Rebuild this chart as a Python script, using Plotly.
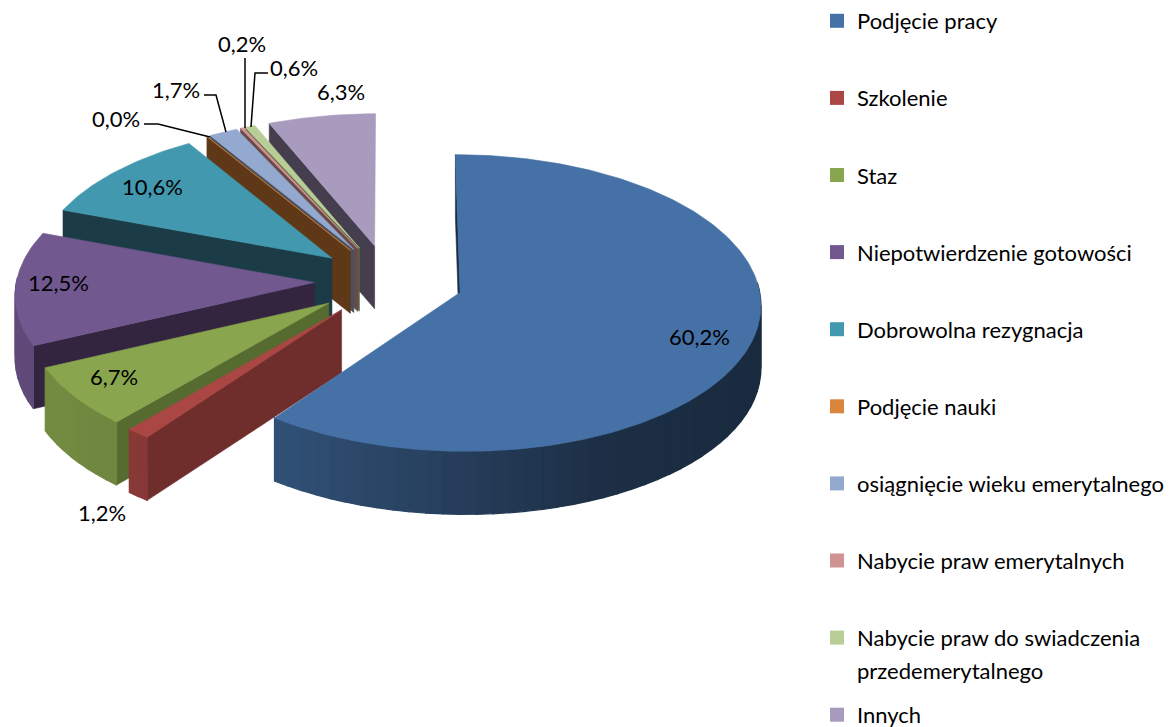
import numpy as np
import plotly.graph_objects as go

# ---- data -------------------------------------------------------------
categories = ["Podjęcie pracy", "Szkolenie", "Staz", "Niepotwierdzenie gotowości",
              "Dobrowolna rezygnacja", "Podjęcie nauki", "osiągnięcie wieku emerytalnego",
              "Nabycie praw emerytalnych", "Nabycie praw do swiadczenia", "Innych"]
wrapped_legend_line = "przedemerytalnego"
values = [60.2, 1.2, 6.7, 12.5, 10.6, 0.0, 1.7, 0.2, 0.6, 6.3]
value_labels = ["60,2%", "1,2%", "6,7%", "12,5%", "10,6%", "0,0%", "1,7%", "0,2%", "0,6%", "6,3%"]
colors = ["#4571A6", "#AA4643", "#89A54E", "#71588F", "#4198AF",
          "#DB843D", "#93A9CF", "#D19392", "#B9CD96", "#A99BBD"]
wall_colors = ["#1B2C45", "#6F2E2C", "#566B30", "#33253F", "#1B3C47",
               "#5E3817", "#4A5060", "#6A4A48", "#5A6548", "#443E4E"]

# ---- pseudo-3D projection (screen pixels, y downwards) ------------------
CX, CY = 389.0, 281.0
A, B = 298.0, 146.0
K = 0.07
EXPLODE = 0.25
DEPTH = 63.0
FONT = "Lato"


def project(u, v, drop=0.0):
    s = 1 + K * v
    return CX + A * u / s, CY - B * v / s + drop


def wall_shade(x):
    return np.interp(x, [40, 140, 272, 600, 770], [0.85, 0.80, 0.72, 0.42, 0.38])


def mix(hex_color, f):
    r, g, b = (int(hex_color[i:i + 2], 16) for i in (1, 3, 5))
    return f"rgb({int(r * f)},{int(g * f)},{int(b * f)})"


fig = go.Figure()


def poly(xs, ys, color, lw=0.6):
    fig.add_trace(go.Scatter(x=xs, y=ys, mode="lines", fill="toself", fillcolor=color,
                             line=dict(color=color, width=lw), hoverinfo="skip",
                             showlegend=False))


total = sum(values)
bounds = np.concatenate([[0], np.cumsum(values)]) / total * 2 * np.pi
slices = []
for i in range(len(values)):
    t0, t1 = bounds[i], bounds[i + 1]
    mid = (t0 + t1) / 2
    ou, ov = EXPLODE * np.sin(mid), EXPLODE * np.cos(mid)
    slices.append((i, t0, t1, ou, ov))

# back-to-front painting order
order = [9, 8, 7, 6, 5, 4, 3, 2, 1, 0]
for i, t0, t1, ou, ov in (slices[k] for k in order):
    th = np.linspace(t0, t1, max(2, int((t1 - t0) / np.radians(1.0)) + 2))
    us, vs = ou + np.sin(th), ov + np.cos(th)

    # start-edge radial wall
    px0, py0 = project(ou, ov)
    px1, py1 = project(us[0], vs[0])
    qx0, qy0 = project(ou, ov, DEPTH)
    qx1, qy1 = project(us[0], vs[0], DEPTH)
    poly([px0, px1, qx1, qx0, px0], [py0, py1, qy1, qy0, py0], wall_colors[i])

    # outer rim, drawn as strips with a left-to-right shade
    strips = np.linspace(t0, t1, max(2, int((t1 - t0) / np.radians(3.0)) + 2))
    for j in range(len(strips) - 1):
        if np.cos((strips[j] + strips[j + 1]) / 2) > 0.05:
            continue
        seg = np.linspace(strips[j], strips[j + 1], 5)
        su, sv = ou + np.sin(seg), ov + np.cos(seg)
        ax, ay = project(su, sv)
        dx, dy = project(su, sv, DEPTH)
        poly(np.concatenate([ax, dx[::-1], ax[:1]]), np.concatenate([ay, dy[::-1], ay[:1]]),
             mix(colors[i], float(wall_shade(ax.mean()))), lw=1.2)

    # top face
    tx, ty = project(us, vs)
    poly(np.concatenate([[px0], tx, [px0]]), np.concatenate([[py0], ty, [py0]]), colors[i])

# ---- legend -------------------------------------------------------------
for name, col in zip(categories, colors):
    fig.add_trace(go.Scatter(x=[None], y=[None], mode="markers", name=name, legendgroup=name,
                             marker=dict(symbol="square", size=14, color=col)))

# ---- data labels ---------------------------------------------------------
label_xy = [(699, 336), (102, 512), (114, 376), (58, 282), (152, 186),
            (116, 118), (176, 89), (242, 43), (294, 67), (341, 91)]
annotations = [dict(x=x, y=y, xref="x", yref="y", text=t, showarrow=False,
                    font=dict(family=FONT, size=22, color="#000000"))
               for (x, y), t in zip(label_xy, value_labels)]
annotations.append(dict(x=855, y=670, xref="x", yref="y", text=wrapped_legend_line,
                        showarrow=False, xanchor="left",
                        font=dict(family=FONT, size=22, color="#000000")))

# leader lines
leaders = ["M 144 124 L 158 124 L 210 137", "M 204 95 L 216 95 L 226 132",
           "M 245 58 L 245 128", "M 268 73 L 255 73 L 251 127"]
shapes = [dict(type="path", path=p, xref="x", yref="y", line=dict(color="#000000", width=1.5))
          for p in leaders]

fig.update_layout(
    width=1172, height=727, autosize=False,
    margin=dict(l=0, r=0, t=0, b=0),
    paper_bgcolor="white", plot_bgcolor="white",
    xaxis=dict(range=[0, 1172], visible=False, fixedrange=True),
    yaxis=dict(range=[727, 0], visible=False, fixedrange=True),
    annotations=annotations, shapes=shapes,
    legend=dict(x=817 / 1172, y=1 - 14 / 727, xanchor="left", yanchor="top",
                tracegroupgap=45.5, bgcolor="rgba(0,0,0,0)", borderwidth=0, maxheight=900,
                font=dict(family=FONT, size=22, color="#000000"), itemwidth=30),
)
fig.write_html("out.html", config={"displayModeBar": False},
               post_script="document.body.style.margin='0';document.body.style.overflow='hidden';")
